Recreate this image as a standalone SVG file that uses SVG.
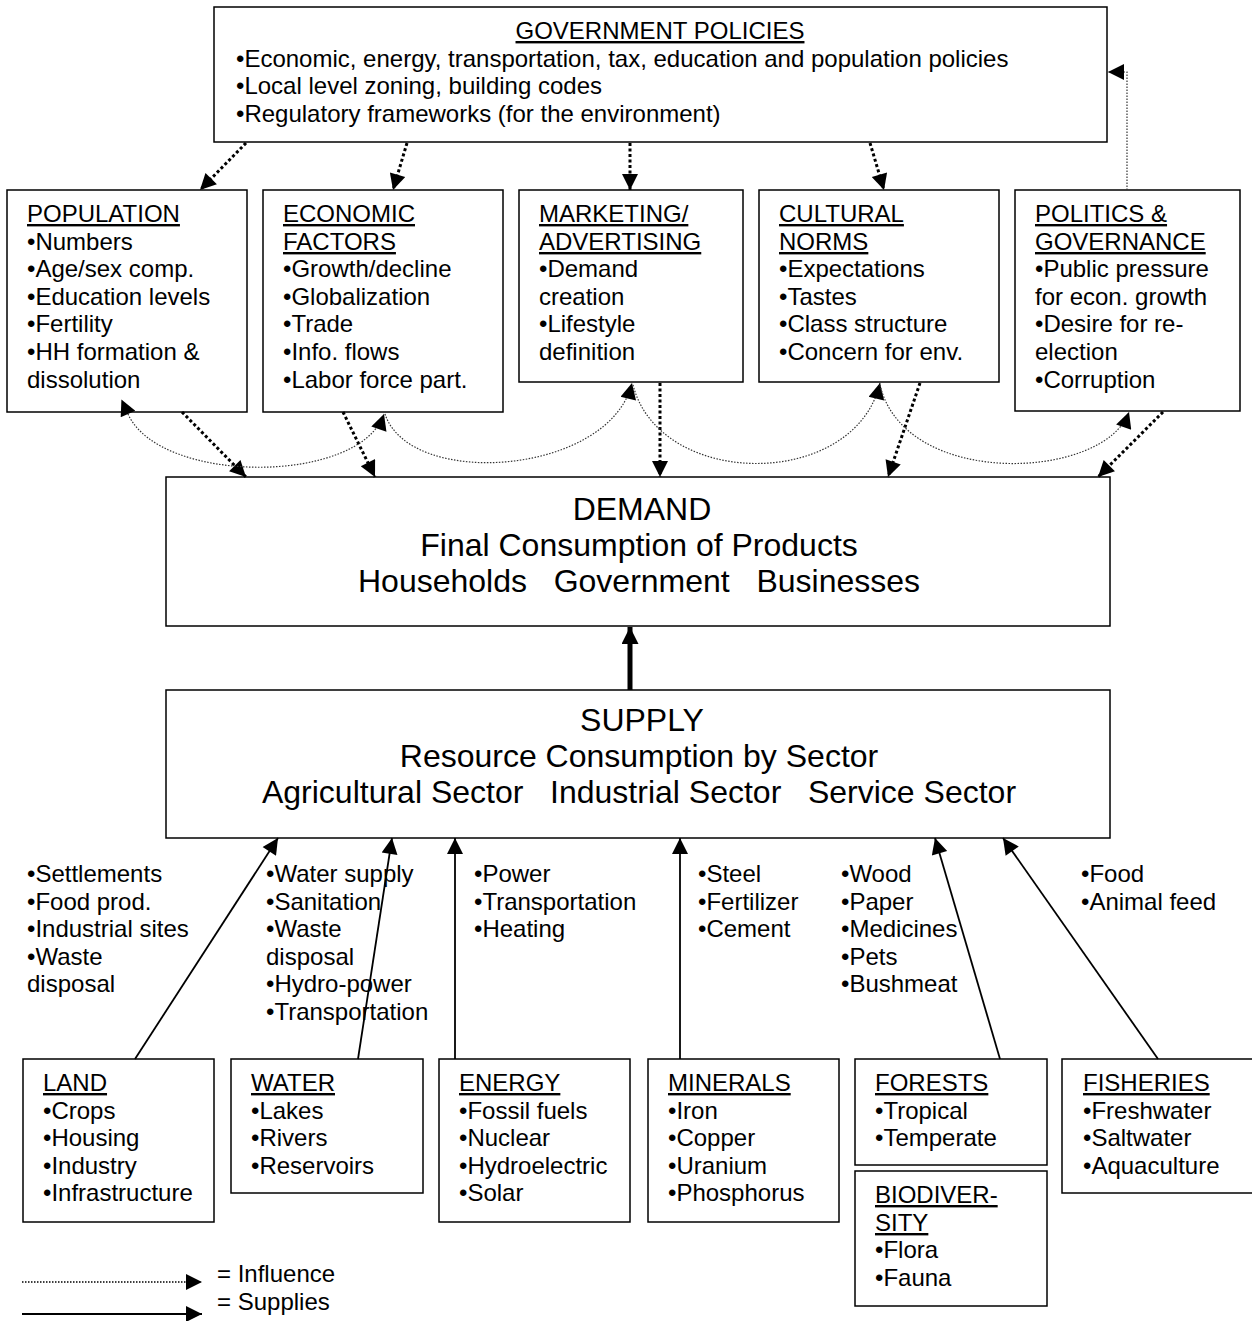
<svg xmlns="http://www.w3.org/2000/svg" width="1252" height="1321" viewBox="0 0 1252 1321">
<style>
  .box { fill: #fff; stroke: #000; stroke-width: 1.5; }
  text { font-family: "Liberation Sans", Arial, sans-serif; font-size: 24px; fill: #000; white-space: pre; }
  .ttl { text-decoration: underline; }
  .big { font-size: 32px; text-anchor: middle; }
  .inf { fill: none; stroke: #000; stroke-width: 3; stroke-dasharray: 3 2.5; }
  .infc { fill: none; stroke: #333; stroke-width: 1.2; stroke-dasharray: 1.5 1.5; }
  .sup { fill: none; stroke: #000; stroke-width: 1.8; }
</style>
<defs>
  <marker id="ah" viewBox="0 0 10 10" refX="10" refY="5" markerUnits="userSpaceOnUse" markerWidth="19" markerHeight="16" orient="auto">
    <path d="M0,0 L10,5 L0,10 z" fill="#000"/>
  </marker>
  <marker id="ahs" viewBox="0 0 10 10" refX="0" refY="5" markerUnits="userSpaceOnUse" markerWidth="19" markerHeight="16" orient="auto-start-reverse">
    <path d="M0,0 L10,5 L0,10 z" fill="#000"/>
  </marker>
  <marker id="ahb" viewBox="0 0 10 10" refX="10" refY="5" markerUnits="userSpaceOnUse" markerWidth="20" markerHeight="17" orient="auto">
    <path d="M0,0 L10,5 L0,10 z" fill="#000"/>
  </marker>
</defs>

<g id="gov">
  <rect class="box" x="214" y="7" width="893" height="135"/>
  <text x="660" y="39" class="ttl" text-anchor="middle">GOVERNMENT POLICIES</text>
  <text x="236" y="67">•Economic, energy, transportation, tax, education and population policies</text>
  <text x="236" y="94">•Local level zoning, building codes</text>
  <text x="236" y="122">•Regulatory frameworks (for the environment)</text>
</g>

<g id="population">
  <rect class="box" x="7" y="190" width="240" height="222"/>
  <text x="27" y="222" class="ttl">POPULATION</text>
  <text x="27" y="250">•Numbers</text>
  <text x="27" y="277">•Age/sex comp.</text>
  <text x="27" y="305">•Education levels</text>
  <text x="27" y="332">•Fertility</text>
  <text x="27" y="360">•HH formation &amp;</text>
  <text x="27" y="388">dissolution</text>
</g>

<g id="economic">
  <rect class="box" x="263" y="190" width="240" height="222"/>
  <text x="283" y="222" class="ttl">ECONOMIC</text>
  <text x="283" y="250" class="ttl">FACTORS</text>
  <text x="283" y="277">•Growth/decline</text>
  <text x="283" y="305">•Globalization</text>
  <text x="283" y="332">•Trade</text>
  <text x="283" y="360">•Info. flows</text>
  <text x="283" y="388">•Labor force part.</text>
</g>

<g id="marketing">
  <rect class="box" x="519" y="190" width="224" height="192"/>
  <text x="539" y="222" class="ttl">MARKETING/</text>
  <text x="539" y="250" class="ttl">ADVERTISING</text>
  <text x="539" y="277">•Demand</text>
  <text x="539" y="305">creation</text>
  <text x="539" y="332">•Lifestyle</text>
  <text x="539" y="360">definition</text>
</g>

<g id="cultural">
  <rect class="box" x="759" y="190" width="240" height="192"/>
  <text x="779" y="222" class="ttl">CULTURAL</text>
  <text x="779" y="250" class="ttl">NORMS</text>
  <text x="779" y="277">•Expectations</text>
  <text x="779" y="305">•Tastes</text>
  <text x="779" y="332">•Class structure</text>
  <text x="779" y="360">•Concern for env.</text>
</g>

<g id="politics">
  <rect class="box" x="1015" y="190" width="225" height="221"/>
  <text x="1035" y="222" class="ttl">POLITICS &amp;</text>
  <text x="1035" y="250" class="ttl">GOVERNANCE</text>
  <text x="1035" y="277">•Public pressure</text>
  <text x="1035" y="305">for econ. growth</text>
  <text x="1035" y="332">•Desire for re-</text>
  <text x="1035" y="360">election</text>
  <text x="1035" y="388">•Corruption</text>
</g>

<g id="demand">
  <rect class="box" x="166" y="477" width="944" height="149"/>
  <text x="642" y="520" class="big">DEMAND</text>
  <text x="639" y="556" class="big">Final Consumption of Products</text>
  <text x="639" y="592" class="big">Households   Government   Businesses</text>
</g>

<g id="supply">
  <rect class="box" x="166" y="690" width="944" height="148"/>
  <text x="642" y="731" class="big">SUPPLY</text>
  <text x="639" y="767" class="big">Resource Consumption by Sector</text>
  <text x="639" y="803" class="big">Agricultural Sector   Industrial Sector   Service Sector</text>
</g>

<g id="supply-labels">
  <text x="27" y="882">•Settlements</text>
  <text x="27" y="910">•Food prod.</text>
  <text x="27" y="937">•Industrial sites</text>
  <text x="27" y="965">•Waste</text>
  <text x="27" y="992">disposal</text>

  <text x="266" y="882">•Water supply</text>
  <text x="266" y="910">•Sanitation</text>
  <text x="266" y="937">•Waste</text>
  <text x="266" y="965">disposal</text>
  <text x="266" y="992">•Hydro-power</text>
  <text x="266" y="1020">•Transportation</text>

  <text x="474" y="882">•Power</text>
  <text x="474" y="910">•Transportation</text>
  <text x="474" y="937">•Heating</text>

  <text x="698" y="882">•Steel</text>
  <text x="698" y="910">•Fertilizer</text>
  <text x="698" y="937">•Cement</text>

  <text x="841" y="882">•Wood</text>
  <text x="841" y="910">•Paper</text>
  <text x="841" y="937">•Medicines</text>
  <text x="841" y="965">•Pets</text>
  <text x="841" y="992">•Bushmeat</text>

  <text x="1081" y="882">•Food</text>
  <text x="1081" y="910">•Animal feed</text>
</g>

<g id="land">
  <rect class="box" x="23" y="1059" width="191" height="163"/>
  <text x="43" y="1091" class="ttl">LAND</text>
  <text x="43" y="1119">•Crops</text>
  <text x="43" y="1146">•Housing</text>
  <text x="43" y="1174">•Industry</text>
  <text x="43" y="1201">•Infrastructure</text>
</g>

<g id="water">
  <rect class="box" x="231" y="1059" width="192" height="134"/>
  <text x="251" y="1091" class="ttl">WATER</text>
  <text x="251" y="1119">•Lakes</text>
  <text x="251" y="1146">•Rivers</text>
  <text x="251" y="1174">•Reservoirs</text>
</g>

<g id="energy">
  <rect class="box" x="439" y="1059" width="191" height="163"/>
  <text x="459" y="1091" class="ttl">ENERGY</text>
  <text x="459" y="1119">•Fossil fuels</text>
  <text x="459" y="1146">•Nuclear</text>
  <text x="459" y="1174">•Hydroelectric</text>
  <text x="459" y="1201">•Solar</text>
</g>

<g id="minerals">
  <rect class="box" x="648" y="1059" width="191" height="163"/>
  <text x="668" y="1091" class="ttl">MINERALS</text>
  <text x="668" y="1119">•Iron</text>
  <text x="668" y="1146">•Copper</text>
  <text x="668" y="1174">•Uranium</text>
  <text x="668" y="1201">•Phosphorus</text>
</g>

<g id="forests">
  <rect class="box" x="855" y="1059" width="192" height="106"/>
  <text x="875" y="1091" class="ttl">FORESTS</text>
  <text x="875" y="1119">•Tropical</text>
  <text x="875" y="1146">•Temperate</text>
</g>

<g id="biodiversity">
  <rect class="box" x="855" y="1171" width="192" height="135"/>
  <text x="875" y="1203" class="ttl">BIODIVER-</text>
  <text x="875" y="1231" class="ttl">SITY</text>
  <text x="875" y="1258">•Flora</text>
  <text x="875" y="1286">•Fauna</text>
</g>

<g id="fisheries">
  <rect class="box" x="1062" y="1059" width="200" height="134"/>
  <text x="1083" y="1091" class="ttl">FISHERIES</text>
  <text x="1083" y="1119">•Freshwater</text>
  <text x="1083" y="1146">•Saltwater</text>
  <text x="1083" y="1174">•Aquaculture</text>
</g>

<g id="connectors">
  <!-- government influences -->
  <line class="inf" x1="246" y1="143" x2="200" y2="190" marker-end="url(#ah)"/>
  <line class="inf" x1="407" y1="143" x2="393" y2="190" marker-end="url(#ah)"/>
  <line class="inf" x1="630" y1="143" x2="630" y2="190" marker-end="url(#ah)"/>
  <line class="inf" x1="870" y1="143" x2="884" y2="190" marker-end="url(#ah)"/>
  <polyline class="infc" points="1127,190 1127,72 1108,72" marker-end="url(#ah)"/>

  <!-- influences on demand -->
  <line class="inf" x1="182" y1="412" x2="246" y2="477" marker-end="url(#ah)"/>
  <line class="inf" x1="343" y1="412" x2="375" y2="477" marker-end="url(#ah)"/>
  <line class="inf" x1="660" y1="383" x2="660" y2="477" marker-end="url(#ah)"/>
  <line class="inf" x1="920" y1="383" x2="888" y2="477" marker-end="url(#ah)"/>
  <line class="inf" x1="1163" y1="412" x2="1098" y2="477" marker-end="url(#ah)"/>

  <!-- interaction curves -->
  <path class="infc" d="M128,414 C160,485 360,485 384,414" marker-start="url(#ahs)" marker-end="url(#ah)"/>
  <path class="infc" d="M385,414 C410,490 610,475 632,383" marker-end="url(#ah)"/>
  <path class="infc" d="M633,385 C660,490 855,490 880,383" marker-end="url(#ah)"/>
  <path class="infc" d="M880,385 C905,490 1105,480 1129,412" marker-end="url(#ah)"/>

  <!-- supply to demand -->
  <line x1="630" y1="690" x2="630" y2="627" stroke="#000" stroke-width="5" marker-end="url(#ahb)"/>

  <!-- resources supply -->
  <line class="sup" x1="135" y1="1059" x2="278" y2="838" marker-end="url(#ah)"/>
  <line class="sup" x1="358" y1="1059" x2="392" y2="838" marker-end="url(#ah)"/>
  <line class="sup" x1="455" y1="1059" x2="455" y2="838" marker-end="url(#ah)"/>
  <line class="sup" x1="680" y1="1059" x2="680" y2="838" marker-end="url(#ah)"/>
  <line class="sup" x1="1000" y1="1059" x2="935" y2="838" marker-end="url(#ah)"/>
  <line class="sup" x1="1158" y1="1059" x2="1003" y2="838" marker-end="url(#ah)"/>
</g>

<g id="legend">
  <line class="infc" x1="22" y1="1282" x2="202" y2="1282" style="stroke:#000;stroke-width:1.5" marker-end="url(#ah)"/>
  <text x="217" y="1282">= Influence</text>
  <line class="sup" x1="22" y1="1314" x2="202" y2="1314" marker-end="url(#ah)"/>
  <text x="217" y="1310">= Supplies</text>
</g>
</svg>
